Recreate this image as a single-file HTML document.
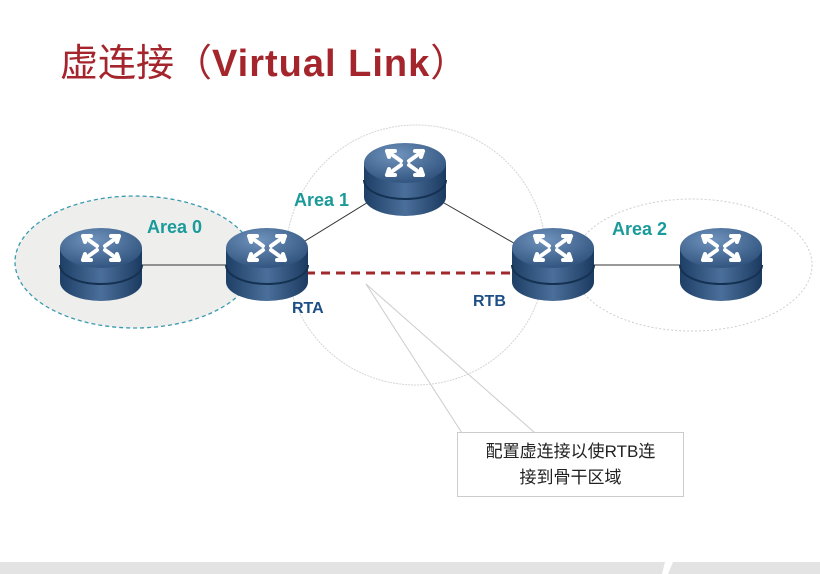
<!DOCTYPE html>
<html><head><meta charset="utf-8"><style>
body{margin:0;width:820px;height:574px;background:#fff;overflow:hidden;position:relative;font-family:"Liberation Sans","Noto Sans CJK SC",sans-serif}
</style></head><body>
<svg width="820" height="574" style="position:absolute;left:0;top:0">
<defs>
<linearGradient id="bd" x1="0" x2="1"><stop offset="0" stop-color="#1e3f66"/><stop offset=".5" stop-color="#4a6f9a"/><stop offset="1" stop-color="#1b3a60"/></linearGradient>
<radialGradient id="tp" cx=".4" cy=".3" r=".8"><stop offset="0" stop-color="#6f93bd"/><stop offset="1" stop-color="#2a4d78"/></radialGradient>
<g id="r">
<path d="M-41,-12 V22 A41,19 0 0 0 41,22 V-12 Z" fill="url(#bd)"/>
<path d="M-41,5 A41,19 0 0 0 41,5" fill="none" stroke="#163252" stroke-width="2"/>
<ellipse cx="0" cy="-12" rx="41" ry="20" fill="url(#tp)"/>
<g stroke="#fff" stroke-width="4" fill="none" stroke-linecap="round">
<path d="M-18,-24 L-4,-14 M-18,-24 l8,0 M-18,-24 l2,6"/>
<path d="M18,-24 L4,-14 M18,-24 l-8,0 M18,-24 l-2,6"/>
<path d="M-18,0 L-4,-10 M-18,0 l8,0 M-18,0 l2,-6"/>
<path d="M18,0 L4,-10 M18,0 l-8,0 M18,0 l-2,-6"/>
</g>
</g>
</defs>
<rect x="0" y="562" width="820" height="12" fill="#e3e3e3"/>
<polygon points="665,562 673,562 668,574 662,574" fill="#fff"/>
<ellipse cx="135" cy="262" rx="120" ry="66" fill="#eeeeec" stroke="#3a9ab0" stroke-width="1.3" stroke-dasharray="4,3"/>
<circle cx="416" cy="255" r="130" fill="none" stroke="#d5d5d5" stroke-width="1" stroke-dasharray="2,1"/>
<ellipse cx="692" cy="265" rx="120" ry="66" fill="none" stroke="#cfcfcf" stroke-width="1" stroke-dasharray="2,2"/>
<line x1="366" y1="284" x2="462" y2="433" stroke="#ccc"/>
<line x1="366" y1="284" x2="535" y2="433" stroke="#ccc"/>
<line x1="100" y1="265" x2="266" y2="265" stroke="#333"/>
<line x1="266" y1="265" x2="404" y2="180" stroke="#333"/>
<line x1="404" y1="180" x2="552" y2="265" stroke="#333"/>
<line x1="552" y1="265" x2="720" y2="265" stroke="#333"/>
<line x1="306" y1="273" x2="514" y2="273" stroke="#a0272c" stroke-width="3" stroke-dasharray="9,6"/>
<use href="#r" x="101" y="260"/>
<use href="#r" x="267" y="260"/>
<use href="#r" x="405" y="175"/>
<use href="#r" x="553" y="260"/>
<use href="#r" x="721" y="260"/>
<rect x="457.5" y="432.5" width="226" height="64" fill="#fff" stroke="#ccc"/>
</svg>
<div style="position:absolute;left:60px;top:32px;font-size:38px;color:#a4262c;white-space:nowrap">虚连接（<span style="font-weight:bold;letter-spacing:1px">Virtual Link</span>）</div>
<div style="position:absolute;left:147px;top:217px;font-size:18px;font-weight:bold;color:#1a9a9a">Area 0</div>
<div style="position:absolute;left:294px;top:190px;font-size:18px;font-weight:bold;color:#1a9a9a">Area 1</div>
<div style="position:absolute;left:612px;top:219px;font-size:18px;font-weight:bold;color:#1a9a9a">Area 2</div>
<div style="position:absolute;left:292px;top:300px;font-size:16px;font-weight:bold;color:#1d4f86">RTA</div>
<div style="position:absolute;left:473px;top:293px;font-size:16px;font-weight:bold;color:#1d4f86">RTB</div>
<div style="position:absolute;left:457px;top:439px;width:227px;text-align:center;font-size:17px;line-height:26px;color:#222">配置虚连接以使RTB连<br>接到骨干区域</div>
</body></html>
